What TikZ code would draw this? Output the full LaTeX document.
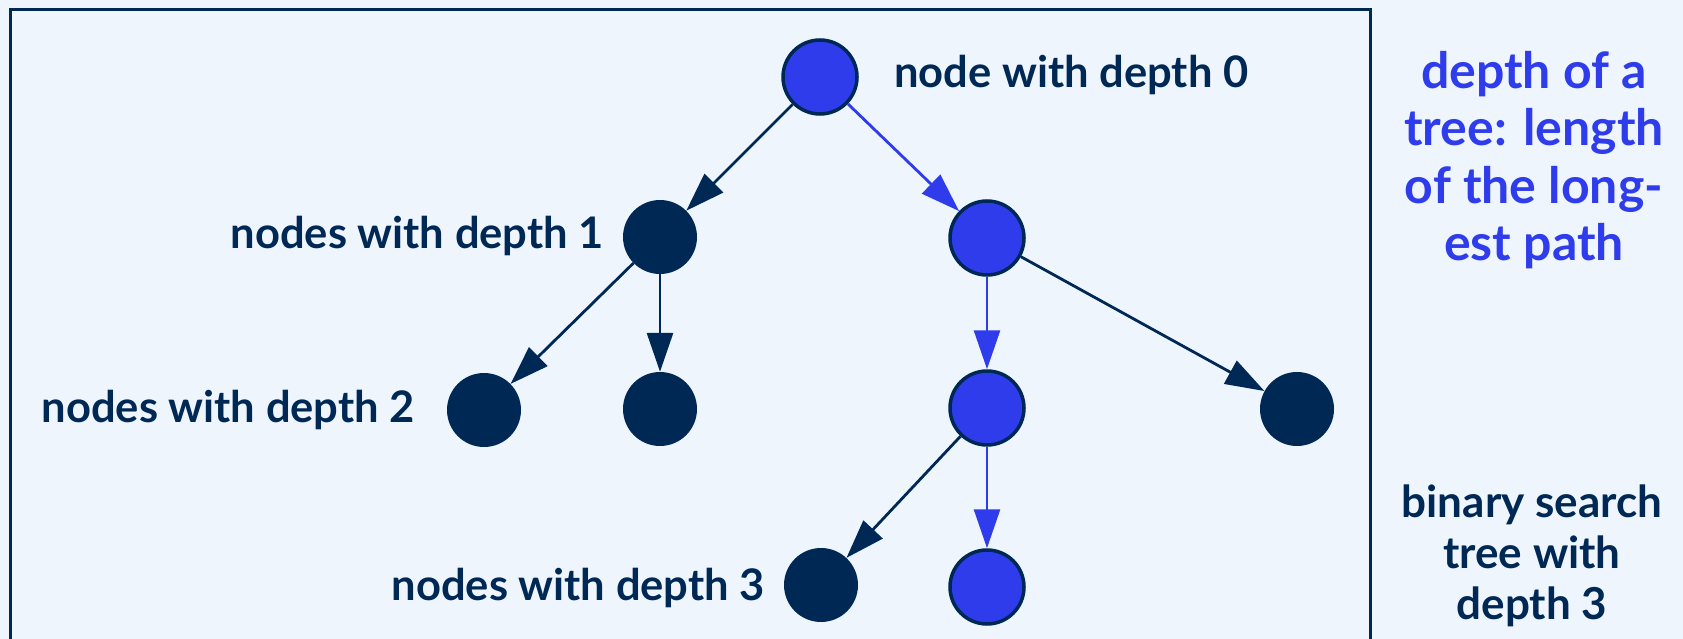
\documentclass[tikz,border=0pt]{standalone}
\usepackage{fontspec}
\setmainfont{Lato}
\usetikzlibrary{arrows.meta}

\definecolor{navy}{HTML}{002855}
\definecolor{vivid}{HTML}{2E3CEC}
\definecolor{paper}{HTML}{EFF5FD}

\tikzset{
  vertex/.style={circle, minimum size=74pt, inner sep=0pt},
  plainvertex/.style={vertex, fill=navy},
  pathvertex/.style={vertex, fill=vivid, draw=navy, line width=3.5pt},
  edge/.style={draw=navy, color=navy, line width=2.8pt, -{Triangle[length=39pt,width=26pt]}},
  pathedge/.style={edge, draw=vivid, color=vivid},
  lbl/.style={text=navy, font=\fontsize{43.5}{50}\selectfont\bfseries, inner sep=0pt},
  note/.style={inner sep=0pt, align=center},
}

\begin{document}
\begin{tikzpicture}[x=1pt, y=-1pt]
  \useasboundingbox (0,0) rectangle (1683,639);
  \clip (0,0) rectangle (1683,639);
  \fill[paper] (0,0) rectangle (1683,639);

  % frame around the tree (its lower edge runs off the page)
  \draw[navy, line width=3pt] (10,10) rectangle (1370,700);

  % tree nodes
  \node[pathvertex]  (r)   at (820,77)  {};
  \node[plainvertex] (a)   at (660,237) {};
  \node[pathvertex]  (b)   at (987,238) {};
  \node[plainvertex] (aa)  at (484,410) {};
  \node[plainvertex] (ab)  at (660,409) {};
  \node[pathvertex]  (ba)  at (987,408) {};
  \node[plainvertex] (bb)  at (1297,409) {};
  \node[plainvertex] (baa) at (821,585) {};
  \node[pathvertex]  (bab) at (987,587) {};

  % connectors
  \draw[edge]     (r)  -- (a);
  \draw[pathedge] (r)  -- (b);
  \draw[edge]     (a)  -- (aa);
  \draw[edge]     (a)  -- (ab);
  \draw[pathedge] (b)  -- (ba);
  \draw[edge]     (b)  -- (bb);
  \draw[edge]     (ba) -- (baa);
  \draw[pathedge] (ba) -- (bab);

  % depth labels
  \node[lbl, anchor=base west] (l0) at (894,88)  {node with depth 0};
  \node[lbl, anchor=base east] (l1) at (604,248) {nodes with depth 1};
  \node[lbl, anchor=base east] (l2) at (415,422) {nodes with depth 2};
  \node[lbl, anchor=base east] (l3) at (765,600) {nodes with depth 3};

  % side notes
  \node[note, text=vivid, font=\fontsize{50}{57.5}\selectfont\bfseries] (def) at (1534,160)
    {depth of a\\tree: length\\of the long-\\est path};
  \node[note, text=navy, font=\fontsize{44}{51}\selectfont\bfseries] (cap) at (1532,556)
    {binary search\\tree with\\depth 3};
\end{tikzpicture}
\end{document}
